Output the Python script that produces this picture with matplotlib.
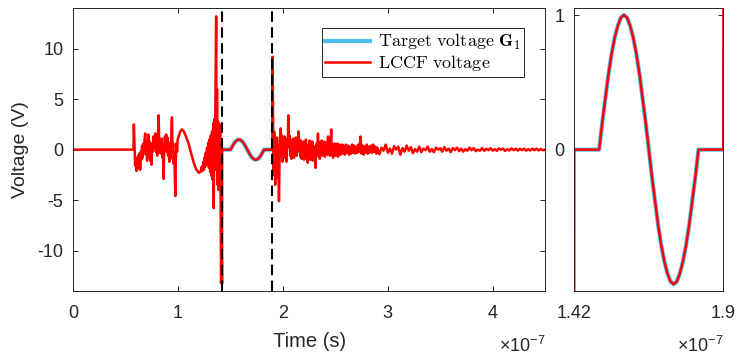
"""LCCF voltage against the target pulse G1, with a zoom on the target window."""

import matplotlib
matplotlib.use("Agg")
import matplotlib.pyplot as plt
import numpy as np
from matplotlib.font_manager import FontProperties

# time in units of 1e-7 s, voltage in V
pre_t = [0, 0.574, 0.578, 0.584, 0.590, 0.596, 0.602, 0.608, 0.614, 0.620,
         0.626, 0.632, 0.638, 0.644, 0.650, 0.656, 0.662, 0.668, 0.674, 0.680,
         0.686, 0.692, 0.698, 0.704, 0.710, 0.716, 0.722, 0.728, 0.734, 0.740,
         0.746, 0.752, 0.758, 0.764, 0.770, 0.776, 0.782, 0.788, 0.794, 0.800,
         0.806, 0.814, 0.820, 0.826, 0.832, 0.838, 0.844, 0.850, 0.856, 0.862,
         0.868, 0.874, 0.880, 0.886, 0.892, 0.898, 0.904, 0.910, 0.916, 0.922,
         0.928, 0.934, 0.941, 0.947, 0.953, 0.958, 0.964, 0.969, 0.973, 0.978,
         0.984, 0.990, 0.996, 1.005, 1.020, 1.037, 1.055, 1.075, 1.100, 1.125,
         1.149, 1.170, 1.197, 1.215, 1.225, 1.232, 1.240, 1.246, 1.252, 1.258,
         1.264, 1.270, 1.276, 1.282, 1.288, 1.294, 1.300, 1.306, 1.312, 1.318,
         1.324, 1.330, 1.336, 1.340, 1.345, 1.350, 1.356, 1.363, 1.367, 1.371,
         1.376, 1.381, 1.386, 1.391, 1.396, 1.401, 1.405, 1.410, 1.414, 1.419]
pre_v = [0, 0, 2.5, 0.5, -1.6, -0.8, -2.1, -1.2, -1.9, -0.6,
         -1.7, -0.4, -2.0, -0.2, -1.0, 0.4, -0.8, 0.6, -0.3, 1.0,
         1.6, -0.5, 0.9, -1.1, 0.3, 1.5, -0.6, 0.8, -1.1, 0.4,
         -1.5, 0.6, -0.2, 1.3, 0.2, 1.1, 1.6, -0.2, 0.8, -0.6,
         0.9, 3.4, 0.5, -0.3, 1.0, -0.4, 1.1, -0.8, 0.5, -2.9,
         0.2, 1.3, 0.6, 1.5, -0.2, 1.2, -0.6, 0.7, -1.2, 0.4,
         -0.9, 1.0, 3.2, -0.2, 0.6, -1.4, -0.3, -3.0, -4.6, -1.0,
         0.6, -0.2, 1.0, 1.3, 1.8, 2.0, 1.8, 1.3, 0.6, -0.4,
         -1.3, -1.9, -2.3, -2.2, -1.7, -2.1, -1.2, -2.0, -0.8, -1.7,
         -0.3, -1.5, 0.2, -1.4, 0.7, -1.8, 1.0, -2.2, 1.4, -2.6,
         1.8, -3.0, 2.6, -5.8, 3.0, -2.0, 5.0, 13.2, -1.5, 6.0,
         -3.5, 2.8, -4.0, 2.0, -2.5, 2.5, -4.0, -13.2, -6.0, -13.3]

# target pulse G1 over the window 1.42 .. 1.90
target_t = [1.42, 1.50, 1.51, 1.52, 1.53, 1.54, 1.55, 1.56, 1.57, 1.58,
            1.59, 1.60, 1.61, 1.62, 1.63, 1.64, 1.65, 1.66, 1.67, 1.68,
            1.69, 1.70, 1.71, 1.72, 1.73, 1.74, 1.75, 1.76, 1.77, 1.78,
            1.79, 1.80, 1.81, 1.82, 1.90]
target_v = [0, 0, 0.20, 0.38, 0.56, 0.71, 0.83, 0.92, 0.98, 1.00,
            0.98, 0.92, 0.83, 0.71, 0.56, 0.38, 0.20, 0, -0.20, -0.38,
            -0.56, -0.71, -0.83, -0.92, -0.98, -1.00, -0.98, -0.92, -0.83, -0.71,
            -0.56, -0.38, -0.20, 0, 0]

post_t = [1.902, 1.907, 1.911, 1.916, 1.921, 1.926, 1.932, 1.938, 1.944, 1.950,
          1.956, 1.962, 1.968, 1.974, 1.979, 1.985, 1.991, 1.997, 2.003, 2.009,
          2.015, 2.021, 2.027, 2.033, 2.039, 2.045, 2.051, 2.057, 2.063, 2.069,
          2.075, 2.081, 2.087, 2.093, 2.099, 2.105, 2.111, 2.117, 2.123, 2.129,
          2.135, 2.141, 2.147, 2.153, 2.159, 2.165, 2.171, 2.177, 2.183, 2.189,
          2.195, 2.201, 2.207, 2.213, 2.219, 2.225, 2.231, 2.237, 2.243, 2.249,
          2.255, 2.261, 2.267, 2.273, 2.279, 2.285, 2.291, 2.297, 2.303, 2.310,
          2.316, 2.322, 2.328, 2.334, 2.340, 2.346, 2.352, 2.358, 2.364, 2.370,
          2.376, 2.382, 2.388, 2.394, 2.400, 2.406, 2.412, 2.418, 2.424, 2.430,
          2.436, 2.442, 2.448, 2.454, 2.460, 2.466, 2.472, 2.478, 2.484, 2.490,
          2.496, 2.502, 2.508, 2.514, 2.520, 2.526, 2.532, 2.538, 2.544, 2.550,
          2.556, 2.562, 2.568, 2.574, 2.580, 2.590, 2.600, 2.610, 2.620, 2.630,
          2.640, 2.650, 2.660, 2.670, 2.680, 2.690, 2.700, 2.710, 2.720, 2.730,
          2.740, 2.750, 2.760, 2.770, 2.780, 2.790, 2.800, 2.810, 2.820, 2.830,
          2.840, 2.850, 2.860, 2.870, 2.880, 2.890, 2.900]
post_v = [9.2, 1.0, -2.5, 1.8, -0.6, -3.5, 0.8, -1.6, 1.2, -2.8,
          0.4, -5.1, -0.8, 1.0, 2.1, -0.6, 1.4, -1.2, 0.9, -0.8,
          1.3, -0.3, 0.8, -1.2, 1.0, 0.2, 3.4, 0.3, 1.4, -0.6,
          1.0, -0.9, 0.6, -0.4, 1.1, -0.8, 0.7, -0.3, 1.2, -0.6,
          0.8, -0.2, 1.8, 0.1, 1.0, -0.7, 0.9, -0.9, 0.5, -0.4,
          0.8, -1.0, 0.6, -0.6, 1.0, -0.9, 0.4, -1.3, 0.5, -0.5,
          0.9, -1.0, 0.3, -0.7, 0.8, -1.1, 0.2, -0.8, 0.3, -1.8,
          -0.2, 0.6, -0.6, 1.6, -0.5, 0.7, -0.9, 0.4, -0.4, 0.9,
          -0.6, 0.5, -0.5, 0.8, -0.7, 0.4, -0.3, 0.7, -0.5, 1.3,
          -0.3, 0.5, -0.6, 0.4, 2.0, -0.5, 0.6, -0.8, 0.3, -0.4,
          0.6, -0.6, 0.4, -0.3, 0.6, -0.7, 0.3, -0.4, 0.5, -0.5,
          0.4, -0.3, 0.5, -0.4, 0.3, -0.5, 0.5, -0.3, 0.4, -0.5,
          0.3, -0.4, 0.5, -0.3, 0.4, -0.4, 0.3, -0.3, 0.5, -0.2,
          1.3, -0.4, 0.4, -0.5, 0.3, -0.3, 0.5, -0.4, 0.3, -0.3,
          0.4, -0.3, 0.5, -0.2, 0.3, -0.4, 0.2]

# slowly dying ringing, sampled every 0.02 from 2.92 to 4.50
tail_t = [round(2.92 + 0.02 * k, 2) for k in range(80)]
tail_v = [-0.45, 0.2, -0.1, 0.5, -0.3, 0.1, -0.4, 0.35, 0.0, 0.3,
          -0.5, 0.15, -0.2, 0.4, -0.1, 0.25, -0.35, 0.05, -0.2, 0.3,
          -0.25, 0.1, -0.05, 0.3, -0.2, 0.05, -0.25, 0.2, 0.0, 0.15,
          -0.2, 0.25, -0.1, 0.1, -0.25, 0.15, -0.05, 0.2, -0.15, 0.1,
          -0.2, 0.05, -0.1, 0.2, -0.05, 0.15, -0.15, 0.0, -0.1, 0.15,
          -0.12, 0.08, -0.05, 0.15, -0.1, 0.05, -0.12, 0.12, 0.0, 0.1,
          -0.12, 0.05, -0.08, 0.12, -0.05, 0.1, -0.1, 0.08, -0.04, 0.1,
          -0.1, 0.04, -0.08, 0.1, -0.05, 0.1, -0.08, 0.06, -0.06, 0.0]

window = [1.42, 1.90]

plt.rcParams["axes.unicode_minus"] = False
plt.rcParams["mathtext.fontset"] = "custom"
plt.rcParams["mathtext.rm"] = "Liberation Sans"
plt.rcParams["font.family"] = "Liberation Sans"

INK = "#262626"
BLUE = "#4DBEEE"
RED = "#FF0000"

lccf_t = np.array(pre_t + target_t[1:] + post_t + tail_t)
lccf_v = np.array(pre_v + target_v[1:] + post_v + tail_v)
# the LCCF trace jumps onto the target at the window edges
lccf_t = np.insert(lccf_t, len(pre_t), window[0])
lccf_v = np.insert(lccf_v, len(pre_t), 0.0)

fig = plt.figure(figsize=(7.38, 3.57), dpi=100)
ax = fig.add_axes([0.0993, 0.1849, 0.6392, 0.7919])
ax2 = fig.add_axes([0.7782, 0.1849, 0.2019, 0.7919])

for a in (ax, ax2):
    a.plot(target_t, target_v, color=BLUE, lw=3.0, solid_joinstyle="round")
    a.plot(lccf_t, lccf_v, color=RED, lw=1.8)
    a.tick_params(direction="in", length=3.6, width=0.7, colors=INK,
                  labelsize=13, top=True, right=True, pad=7)
    a.tick_params(axis="x", pad=10)
    for s in a.spines.values():
        s.set_color(INK)
        s.set_linewidth(0.7)

for x in window:
    ax.axvline(x, color="black", lw=1.5, ls=(0, (5, 2.6)), zorder=5)

ax.set_xlim(0, 4.5)
ax.set_ylim(-14, 14)
ax.set_xticks([0, 1, 2, 3, 4])
ax.set_xticklabels(["0", "1", "2", "3", "4"])
ax.set_yticks([-10, -5, 0, 5, 10])
ax.set_xlabel("Time (s)", fontsize=14.5, color=INK, labelpad=7)
ax.set_ylabel("Voltage (V)", fontsize=14, color=INK, labelpad=6)
ax.text(1.0, -0.16, r"$\times10^{-7}$", transform=ax.transAxes,
        ha="right", va="top", fontsize=13, color=INK)

ax2.set_xlim(*window)
ax2.set_ylim(-1.05, 1.05)
ax2.set_xticks(window)
ax2.set_xticklabels(["1.42", "1.9"])
ax2.set_yticks([0, 1])
ax2.set_yticklabels(["0", "1"])
ax2.text(1.0, -0.16, r"$\times10^{-7}$", transform=ax2.transAxes,
         ha="right", va="top", fontsize=13, color=INK)

leg_font = FontProperties(size=13, math_fontfamily="cm")
leg = ax.legend(
    [ax.lines[0], ax.lines[1]],
    [r"$\mathrm{Target\ voltage}\ \mathbf{G_1}$", r"$\mathrm{LCCF\ voltage}$"],
    loc="upper right", bbox_to_anchor=(0.9555, 0.9293), prop=leg_font,
    fancybox=False, framealpha=1, edgecolor=INK, handlelength=2.5,
    borderpad=0.2, labelspacing=0.05, handletextpad=0.4, borderaxespad=0,
)
leg.get_frame().set_linewidth(0.7)

fig.savefig("out.png", dpi=100, facecolor="white")
